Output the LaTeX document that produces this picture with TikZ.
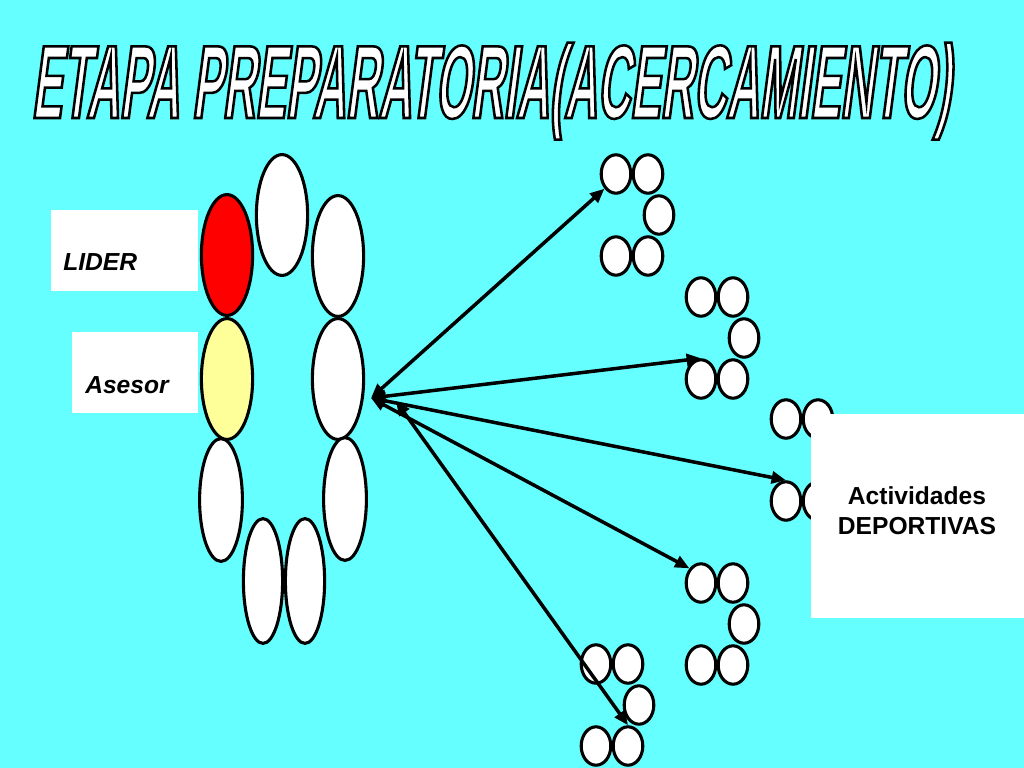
\documentclass[tikz,border=0pt]{standalone}
\usepackage{fontspec}
\setmainfont{Liberation Sans}
\font\titlefont="Liberation Sans/B:extend=0.438;slant=0.13" at 74pt
\usepackage{xcolor}
\usepackage{tikz}
\usetikzlibrary{arrows.meta,shapes.geometric}

\definecolor{slideCyan}{RGB}{102,255,255}
\definecolor{paleYellow}{RGB}{255,255,153}

% white letters with a black outline (text render mode 2)
\newcommand{\outlined}[1]{\special{pdf:literal direct 0 G 1.8 w 2 Tr}#1\special{pdf:literal direct 0 Tr}}

\begin{document}
\begin{tikzpicture}[
			x=0.025cm, y=-0.025cm,
			% Team ring
			ringOval/.style={
				ellipse,
				draw=black,
				line width=2.2pt,
				fill=white,
				inner sep=0pt
			},
			ringWide/.style={
				ringOval,
				minimum width=1.28cm,
				minimum height=3.02cm
			},
			ringSlim/.style={
				ringOval,
				minimum width=1.07cm,
				minimum height=3.07cm
			},
			ringThin/.style={
				ringOval,
				minimum width=0.98cm,
				minimum height=3.12cm
			},
			% Small groups
			groupOval/.style={
				ellipse,
				draw=black,
				line width=2.2pt,
				fill=white,
				inner sep=0pt,
				minimum width=0.74cm,
				minimum height=0.96cm
			},
			labelBox/.style={
				fill=white,
				inner sep=0pt
			},
			roleText/.style={
				font=\fontsize{17.5}{21}\selectfont\bfseries\itshape,
				inner sep=0pt,
				anchor=base west
			},
			activText/.style={
				font=\fontsize{17.5}{21.3}\selectfont\bfseries,
				align=center,
				inner sep=0pt
			},
			titleText/.style={
				font=\titlefont,
				text=white,
				inner sep=0pt,
				anchor=base
			},
			link/.style={
				{Triangle[length=3.6mm,width=3mm]}-{Triangle[length=3.6mm,width=3mm]},
				line width=2.5pt
			}
			]
			
			% Slide background
			\useasboundingbox (0,0) rectangle (1024,768);
			\fill[slideCyan] (0,0) rectangle (1024,768);
			
			% Title
			\node[titleText] (title) at (491,118)
			{\outlined{ETAPA PREPARATORIA(ACERCAMIENTO)}};
			
			% Role labels
			\node[labelBox, minimum width=3.675cm, minimum height=2.025cm]
			(liderBox) at (124.5,250.5) {};
			\node[roleText] (liderText) at (63,270) {LIDER};
			
			\node[labelBox, minimum width=3.15cm, minimum height=2.025cm]
			(asesorBox) at (135,372.5) {};
			\node[roleText] (asesorText) at (85,393) {Asesor};
			
			% Team ring
			\node[ringWide]              (ringTop)      at (282,215) {};
			\node[ringWide, fill=red]    (lider)        at (227,255) {};
			\node[ringWide]              (ringRightUp)  at (338,256) {};
			\node[ringSlim]              (ringLeftLow)  at (221,500) {};
			\node[ringWide, fill=paleYellow] (asesor)   at (227,379) {};
			\node[ringWide]              (ringRightMid) at (338,379) {};
			\node[ringSlim]              (ringRightLow) at (345,499) {};
			\node[ringThin]              (ringBottomL)  at (263,581) {};
			\node[ringThin]              (ringBottomR)  at (305,581) {};
			
			% Group 1
			\node[groupOval] (g1a) at (616,174) {};
			\node[groupOval] (g1b) at (648,174) {};
			\node[groupOval] (g1c) at (659,215) {};
			\node[groupOval] (g1d) at (616,256) {};
			\node[groupOval] (g1e) at (648,256) {};
			
			% Group 2
			\node[groupOval] (g2a) at (701,297) {};
			\node[groupOval] (g2b) at (733,297) {};
			\node[groupOval] (g2c) at (744,338) {};
			\node[groupOval] (g2d) at (701,379) {};
			\node[groupOval] (g2e) at (733,379) {};
			
			% Group 3
			\node[groupOval] (g3a) at (786,419) {};
			\node[groupOval] (g3b) at (818,419) {};
			\node[groupOval] (g3c) at (829,460) {};
			\node[groupOval] (g3d) at (786,501) {};
			\node[groupOval] (g3e) at (818,501) {};
			
			% Group 4
			\node[groupOval] (g4a) at (701,583) {};
			\node[groupOval] (g4b) at (733,583) {};
			\node[groupOval] (g4c) at (744,624) {};
			\node[groupOval] (g4d) at (701,665) {};
			\node[groupOval] (g4e) at (733,665) {};
			
			% Group 5
			\node[groupOval] (g5a) at (596,664) {};
			\node[groupOval] (g5b) at (628,664) {};
			\node[groupOval] (g5c) at (639,705) {};
			\node[groupOval] (g5d) at (596,746) {};
			\node[groupOval] (g5e) at (628,746) {};
			
			% Activity box
			\node[labelBox, minimum width=5.325cm, minimum height=5.1cm]
			(activBox) at (917.5,516) {};
			\node[activText] (activText) at (917,511)
			{Actividades\\DEPORTIVAS};
			
			% Links from the ring to the groups
			\coordinate (hub)    at (371,398);
			\coordinate (hubLow) at (396,401);
			
			\draw[link] (hub) -- (g1a.south west);
			\draw[link] (hub) -- (g2d.north);
			\draw[link] (hub) -- (g3d.north);
			\draw[link] (hub) -- (g4a.north west);
			\draw[link] (hubLow) -- (g5e.north);
			
		\end{tikzpicture}
\end{document}
